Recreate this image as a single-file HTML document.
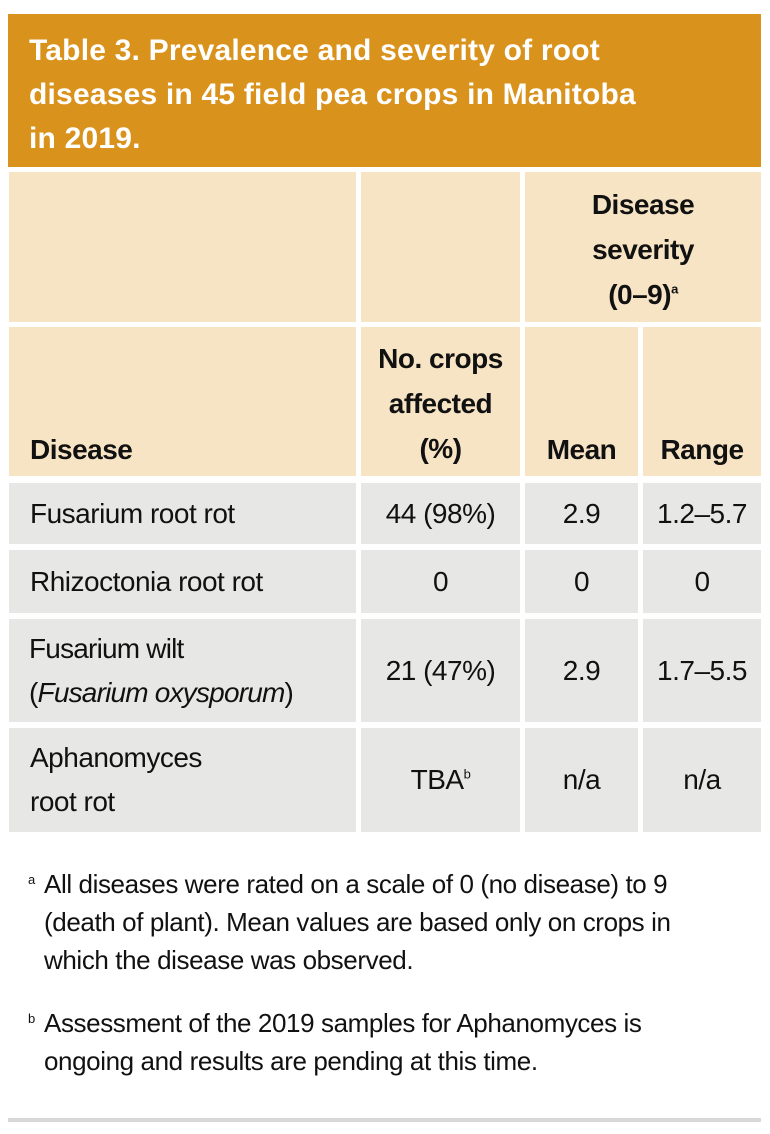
<!DOCTYPE html>
<html><head><meta charset="utf-8"><style>
body{margin:0;width:770px;height:1134px;background:#fff;position:relative;overflow:hidden;font-family:"Liberation Sans",sans-serif;color:#111;}
.a{position:absolute;box-sizing:border-box;}
.c{display:flex;align-items:center;justify-content:center;text-align:center;font-size:28px;line-height:36px;letter-spacing:-0.5px;}
.h{background:#f7e4c4;font-weight:bold;}
.d{background:#e7e8e6;}
.l{justify-content:flex-start;text-align:left;padding-left:21px;}
sup{font-size:13px;line-height:0;vertical-align:super;}
</style></head><body>
<div class="a" style="left:8px;top:14px;width:753px;height:153px;background:#d9921c;color:#fff;font-weight:bold;font-size:30px;line-height:44px;padding:15px 0 0 21px;letter-spacing:0.2px">Table 3. Prevalence and severity of root<br>diseases in 45 field pea crops in Manitoba<br>in 2019.</div>

<div class="a c h" style="left:9px;top:172px;width:347px;height:150px"></div>
<div class="a c h" style="left:361px;top:172px;width:159px;height:150px"></div>
<div class="a c h" style="left:525px;top:172px;width:236px;height:150px;line-height:45px;padding-top:4px"><span>Disease<br>severity<br>(0–9)<sup>a</sup></span></div>

<div class="a c h l" style="left:9px;top:327px;width:347px;height:149px;align-items:flex-end;padding-bottom:8px"><span>Disease</span></div>
<div class="a c h" style="left:361px;top:327px;width:159px;height:149px;line-height:45px;align-items:flex-end;padding-bottom:5px"><span>No. crops<br>affected<br>(%)</span></div>
<div class="a c h" style="left:525px;top:327px;width:113px;height:149px;align-items:flex-end;padding-bottom:8px"><span>Mean</span></div>
<div class="a c h" style="left:643px;top:327px;width:118px;height:149px;align-items:flex-end;padding-bottom:8px"><span>Range</span></div>

<div class="a c d l" style="left:9px;top:483px;width:347px;height:61px"><span>Fusarium root rot</span></div>
<div class="a c d" style="left:361px;top:483px;width:159px;height:61px"><span>44 (98%)</span></div>
<div class="a c d" style="left:525px;top:483px;width:113px;height:61px"><span>2.9</span></div>
<div class="a c d" style="left:643px;top:483px;width:118px;height:61px"><span>1.2–5.7</span></div>

<div class="a c d l" style="left:9px;top:550px;width:347px;height:63px"><span>Rhizoctonia root rot</span></div>
<div class="a c d" style="left:361px;top:550px;width:159px;height:63px"><span>0</span></div>
<div class="a c d" style="left:525px;top:550px;width:113px;height:63px"><span>0</span></div>
<div class="a c d" style="left:643px;top:550px;width:118px;height:63px"><span>0</span></div>

<div class="a c d l" style="left:9px;top:619px;width:347px;height:103px;line-height:44px;padding-left:20px;letter-spacing:-0.8px"><span>Fusarium wilt<br>(<i>Fusarium oxysporum</i>)</span></div>
<div class="a c d" style="left:361px;top:619px;width:159px;height:103px"><span>21 (47%)</span></div>
<div class="a c d" style="left:525px;top:619px;width:113px;height:103px"><span>2.9</span></div>
<div class="a c d" style="left:643px;top:619px;width:118px;height:103px"><span>1.7–5.5</span></div>

<div class="a c d l" style="left:9px;top:728px;width:347px;height:104px;line-height:44px"><span>Aphanomyces<br>root rot</span></div>
<div class="a c d" style="left:361px;top:728px;width:159px;height:104px"><span>TBA<sup>b</sup></span></div>
<div class="a c d" style="left:525px;top:728px;width:113px;height:104px"><span>n/a</span></div>
<div class="a c d" style="left:643px;top:728px;width:118px;height:104px"><span>n/a</span></div>

<div class="a" style="left:28px;top:865px;width:700px;font-size:26px;line-height:38px;padding-left:16px;letter-spacing:-0.4px"><span style="position:absolute;left:0;top:-4px;font-size:13px">a</span>All diseases were rated on a scale of 0 (no disease) to 9 (death of plant). Mean values are based only on crops in which the disease was observed.</div>
<div class="a" style="left:28px;top:1004px;width:700px;font-size:26px;line-height:38px;padding-left:16px;letter-spacing:-0.4px"><span style="position:absolute;left:0;top:-4px;font-size:13px">b</span>Assessment of the 2019 samples for Aphanomyces is ongoing and results are pending at this time.</div>

<div class="a" style="left:8px;top:1118px;width:753px;height:4px;background:#d8d8d8"></div>
</body></html>
